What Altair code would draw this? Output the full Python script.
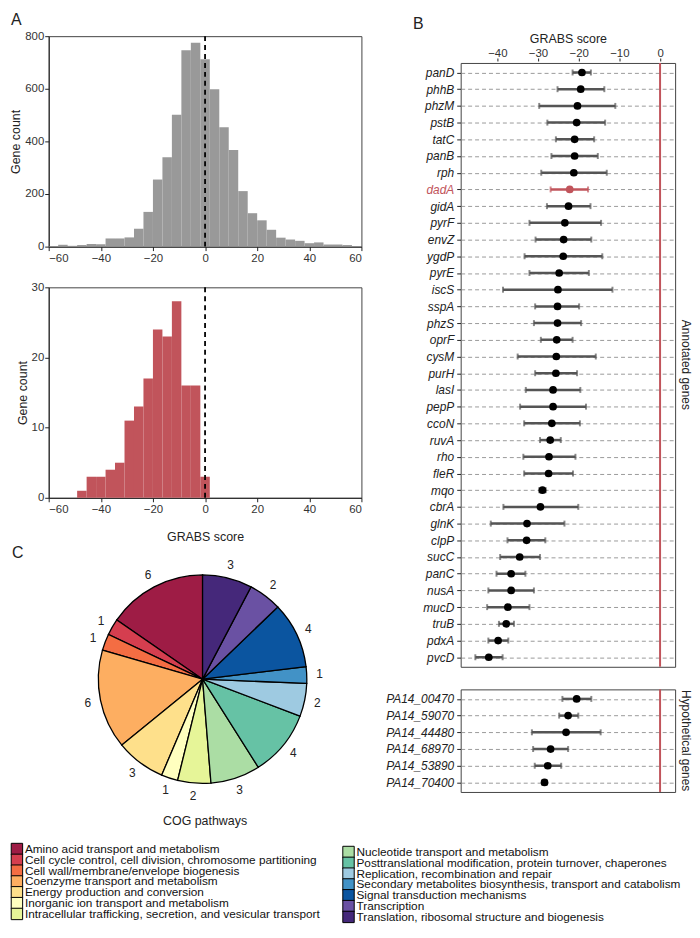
import altair as alt
import pandas as pd

FONT = "Liberation Sans"
RED = "#c1545b"
BAR_GRAY = "#999999"
ERR_GRAY = "#555555"

# ---------------- Panel A: histograms ----------------
bin_start = [-60.00, -56.36, -52.73, -49.09, -45.45, -41.82, -38.18, -34.55, -30.91,
             -27.27, -23.64, -20.00, -16.36, -12.73, -9.09, -5.45, -1.82, 1.82, 5.45,
             9.09, 12.73, 16.36, 20.00, 23.64, 27.27, 30.91, 34.55, 38.18, 41.82, 45.45,
             49.09, 52.73, 56.36]
BIN_W = 3.636
all_counts = [2, 7, 3, 6, 10, 9, 31, 31, 35, 68, 132, 255, 340, 501, 746, 775, 712,
              598, 454, 367, 211, 127, 100, 64, 34, 27, 22, 13, 16, 8, 8, 6, 2]
sel_counts = [0, 0, 0, 1, 3, 3, 4, 5, 11, 13, 17, 24, 23, 28, 16, 16, 3,
              0, 0, 0, 0, 0, 0, 0, 0, 0, 0, 0, 0, 0, 0, 0, 0]
zero_ref = [0]
hist_ticks = [-60, -50, -40, -30, -20, -10, 0, 10, 20, 30, 40, 50, 60]

hist_df = pd.DataFrame({"start": bin_start, "all": all_counts, "sel": sel_counts})
zero_df = pd.DataFrame({"x": zero_ref})

HIST_W = 315


def hist_panel(field, color, ymax, yticks, xtitle, title):
    bars = alt.Chart(hist_df).transform_calculate(
        end=f"datum.start + {BIN_W}"
    ).mark_rect(color=color, opacity=1).encode(
        x=alt.X("start:Q", scale=alt.Scale(domain=[-60, 60], nice=False),
                axis=alt.Axis(values=hist_ticks, title=xtitle, grid=False, titlePadding=16)),
        x2="end:Q",
        y=alt.Y(f"{field}:Q", scale=alt.Scale(domain=[0, ymax], nice=False),
                axis=alt.Axis(values=yticks, title="Gene count", grid=False, titlePadding=2,
                              labelPadding=1)),
        y2=alt.datum(0),
    )
    line = alt.Chart(zero_df).mark_rule(color="black", strokeDash=[5, 4], strokeWidth=1.8).encode(
        x="x:Q"
    )
    return alt.layer(bars, line).properties(width=HIST_W, height=212, title=title)


hist_top = hist_panel("all", BAR_GRAY, 800, [0, 200, 400, 600, 800], None,
                      alt.Title("A", anchor="start", frame="group", dx=-38, fontSize=16, offset=2))
hist_bot = hist_panel("sel", RED, 30, [0, 10, 20, 30], "GRABS score", "")

# ---------------- Panel C: pie + legend ----------------
cog_names = [
    "Amino acid transport and metabolism",
    "Cell cycle control, cell division, chromosome partitioning",
    "Cell wall/membrane/envelope biogenesis",
    "Coenzyme transport and metabolism",
    "Energy production and conversion",
    "Inorganic ion transport and metabolism",
    "Intracellular trafficking, secretion, and vesicular transport",
    "Nucleotide transport and metabolism",
    "Posttranslational modification, protein turnover, chaperones",
    "Replication, recombination and repair",
    "Secondary metabolites biosynthesis, transport and catabolism",
    "Signal transduction mechanisms",
    "Transcription",
    "Translation, ribosomal structure and biogenesis",
]
cog_counts = [6, 1, 1, 6, 3, 1, 2, 3, 4, 2, 1, 4, 2, 3]
cog_colors = ["#9e1c45", "#d53e4f", "#f46d43", "#fdae61", "#fee08b", "#ffffbf", "#e6f598",
              "#abdda4", "#66c2a5", "#9ecae1", "#4292c6", "#0b55a0", "#6a51a3", "#45287a"]
legend_col = [0, 0, 0, 0, 0, 0, 0, 1, 1, 1, 1, 1, 1, 1]
legend_row = [0, 1, 2, 3, 4, 5, 6, 0, 1, 2, 3, 4, 5, 6]

cog_df = pd.DataFrame({"name": cog_names, "count": cog_counts,
                       "col": legend_col, "row": legend_row})
cog_color = alt.Color("name:N", scale=alt.Scale(domain=cog_names, range=cog_colors), legend=None)

PIE_CX = 155
PIE_CY = 141.7
arc = alt.Chart(cog_df).mark_arc(outerRadius=105, stroke="black", strokeWidth=1.3).encode(
    theta=alt.Theta("count:Q", stack=True),
    color=cog_color,
    order=alt.Order("name:N", sort="descending"),
    x=alt.value(PIE_CX), y=alt.value(PIE_CY),
)
arc_lbl = alt.Chart(cog_df).mark_text(radius=118, fontSize=12, color="#222222").encode(
    theta=alt.Theta("count:Q", stack=True),
    text="count:Q",
    order=alt.Order("name:N", sort="descending"),
    x=alt.value(PIE_CX), y=alt.value(PIE_CY),
)
pie = alt.layer(arc, arc_lbl).properties(
    width=HIST_W, height=262,
    title=alt.Title("C", anchor="start", frame="group", dx=-37, dy=27, fontSize=16),
    view=alt.ViewBackground(stroke="transparent"),
)

leg_x = alt.X("col:Q", scale=alt.Scale(domain=[0, 1], range=[-32, 302]), axis=None)
leg_y = alt.Y("row:Q", scale=alt.Scale(domain=[0, 6], range=[5.8, 71.2]), axis=None)
leg_layers = []
for c, off in [(0, 0), (1, 3)]:
    src = alt.Chart(cog_df).transform_filter(f"datum.col == {c}")
    leg_layers.append(src.mark_point(shape="square", filled=True, size=132, stroke="black",
                                     strokeWidth=1, opacity=1, yOffset=off).encode(
        x=leg_x, y=leg_y, color=cog_color))
    leg_layers.append(src.mark_text(align="left", baseline="middle", dx=8, dy=off,
                                    fontSize=11.9, color="#111111").encode(
        x=leg_x, y=leg_y, text="name:N"))
legend = alt.layer(*leg_layers).properties(
    width=HIST_W, height=76,
    title=alt.Title("COG pathways", anchor="middle", fontSize=12.5, offset=14),
    view=alt.ViewBackground(stroke="transparent"),
)

left_col = alt.vconcat(hist_top, hist_bot, pie, spacing=41, bounds="flush")

# ---------------- Panel B: forest plot ----------------
genes = ["panD", "phhB", "phzM", "pstB", "tatC", "panB", "rph", "dadA", "gidA", "pyrF",
         "envZ", "ygdP", "pyrE", "iscS", "sspA", "phzS", "oprF", "cysM", "purH", "lasI",
         "pepP", "ccoN", "ruvA", "rho", "fleR", "mqo", "cbrA", "glnK", "clpP", "sucC",
         "panC", "nusA", "mucD", "truB", "pdxA", "pvcD",
         "PA14_00470", "PA14_59070", "PA14_44480", "PA14_68970", "PA14_53890", "PA14_70400"]
gene_group = ["Annotated genes"] * 36 + ["Hypothetical genes"] * 6
score_mean = [-19.2, -19.5, -20.3, -20.5, -21.0, -21.0, -21.2, -22.2, -22.5, -23.4,
              -23.7, -23.8, -24.8, -25.1, -25.2, -25.2, -25.4, -25.5, -25.6, -26.3,
              -26.3, -26.6, -27.0, -27.3, -27.4, -28.9, -29.4, -32.7, -32.8, -34.5,
              -36.6, -36.6, -37.4, -37.8, -39.8, -42.1,
              -20.5, -22.6, -23.1, -26.9, -27.6, -28.4]
score_low = [-21.5, -25.2, -29.7, -27.7, -25.6, -26.7, -29.2, -26.9, -27.8, -32.1,
             -30.6, -33.3, -32.1, -38.6, -30.7, -31.0, -29.3, -35.0, -30.7, -33.0,
             -34.4, -33.4, -29.5, -33.6, -33.4, -29.7, -38.5, -41.6, -37.5, -39.3,
             -40.2, -42.2, -42.5, -39.6, -42.2, -45.4,
             -24.0, -24.8, -31.5, -31.2, -30.8, -29.0]
score_high = [-17.0, -13.7, -11.0, -13.5, -16.2, -15.3, -13.1, -17.7, -17.1, -14.5,
              -16.9, -14.2, -17.5, -11.7, -19.9, -19.4, -21.5, -15.8, -20.4, -19.6,
              -18.2, -19.7, -24.4, -20.8, -21.4, -28.1, -20.1, -23.5, -28.2, -29.5,
              -33.1, -31.0, -32.1, -35.9, -37.3, -38.7,
              -16.9, -20.1, -14.6, -22.6, -24.3, -27.8]
groups = ["Annotated genes", "Hypothetical genes"]
forest_ticks = [-40, -30, -20, -10, 0]

forest_df = pd.DataFrame({"gene": genes, "group": gene_group, "mean": score_mean,
                          "low": score_low, "high": score_high})

x_scale = alt.Scale(domain=[-49, 3.7], nice=False, zero=False)
x_axis = alt.Axis(orient="top", title="GRABS score", values=forest_ticks, grid=False,
                  domain=False, titlePadding=2, tickSize=3, labelPadding=0)
y_enc = alt.Y("gene:N", sort=genes, scale=alt.Scale(type="point", padding=0.57),
              axis=alt.Axis(title=None, grid=True, gridDash=[4, 3], gridColor="#9a9a9a",
                            domain=False, labelFontStyle="italic", labelFontSize=12,
                            labelPadding=3,
                            labelColor=alt.expr(f"datum.value === 'dadA' ? '{RED}' : '#222222'")))
is_dada = alt.datum.gene == "dadA"
err_color = alt.when(is_dada).then(alt.value(RED)).otherwise(alt.value(ERR_GRAY))
pt_color = alt.when(is_dada).then(alt.value(RED)).otherwise(alt.value("black"))

fb = alt.Chart()
err = fb.mark_rule(strokeWidth=2.5).encode(
    x=alt.X("low:Q", scale=x_scale, axis=x_axis), x2="high:Q", y=y_enc, color=err_color)
cap_lo = fb.mark_tick(thickness=2, size=6).encode(
    x=alt.X("low:Q", scale=x_scale, axis=x_axis), y=y_enc, color=err_color)
cap_hi = fb.mark_tick(thickness=2, size=6).encode(
    x=alt.X("high:Q", scale=x_scale, axis=x_axis), y=y_enc, color=err_color)
pts = fb.mark_circle(size=60, opacity=1).encode(
    x=alt.X("mean:Q", scale=x_scale, axis=x_axis), y=y_enc, color=pt_color)
zline = fb.transform_aggregate(n="count()", groupby=["group"]).mark_rule(
    color=RED, strokeWidth=2).encode(x=alt.datum(0))

forest = alt.layer(err, cap_lo, cap_hi, pts, zline, data=forest_df).properties(
    width=216, height=alt.Step(16.83)
).facet(
    row=alt.Row("group:N", sort=groups,
                header=alt.Header(title=None, labelOrient="right", labelAngle=90,
                                  labelFontSize=12, labelPadding=3, labelFont=FONT,
                                  labelColor="#222222")),
    spacing=19,
).resolve_scale(y="independent").properties(
    title=alt.Title("B", anchor="start", frame="group", dx=-48, fontSize=16, offset=0)
)

spacer_df = pd.DataFrame({"v": [0]})
spacer = alt.Chart(spacer_df).mark_point(opacity=0).encode(
    x=alt.value(0), y=alt.value(0)
).properties(width=216, height=1, view=alt.ViewBackground(stroke="transparent"))

right_col = alt.vconcat(spacer, forest, spacing=26, bounds="flush")

top_row = alt.hconcat(left_col, right_col, spacing=22)
chart = alt.vconcat(top_row, legend, spacing=12).properties(
    padding=0
).configure(font=FONT).configure_axis(
    labelFont=FONT, titleFont=FONT, labelFontSize=11.5, titleFontSize=12.5,
    titleFontWeight="normal", labelColor="#333333", titleColor="#222222",
    tickColor="#222222", domainColor="#222222", tickSize=4,
).configure_view(stroke="#444444").configure_title(
    font=FONT, fontWeight="normal", color="#222222"
)

chart.save("out.html", embed_options={"renderer": "svg", "actions": False})
